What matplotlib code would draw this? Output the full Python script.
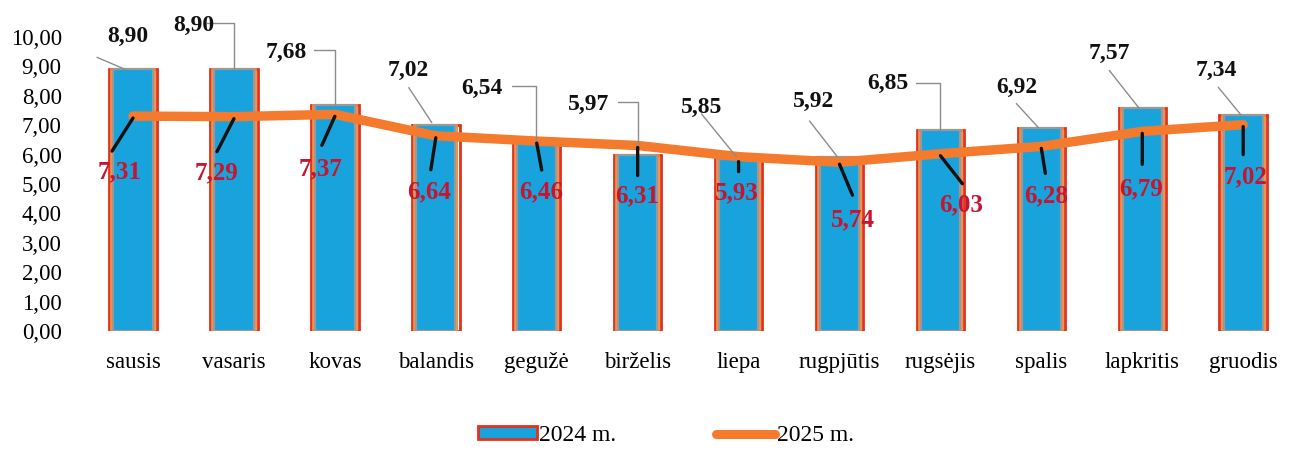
import matplotlib
matplotlib.use("Agg")
import matplotlib.pyplot as plt
from matplotlib.patches import Patch
from matplotlib.lines import Line2D
from matplotlib.transforms import offset_copy

plt.rcParams['font.family'] = ['Liberation Serif', 'DejaVu Serif']

months = ['sausis', 'vasaris', 'kovas', 'balandis', 'gegužė', 'birželis',
          'liepa', 'rugpjūtis', 'rugsėjis', 'spalis', 'lapkritis', 'gruodis']
v2024 = [8.90, 8.90, 7.68, 7.02, 6.54, 5.97, 5.85, 5.92, 6.85, 6.92, 7.57, 7.34]
v2025 = [7.31, 7.29, 7.37, 6.64, 6.46, 6.31, 5.93, 5.74, 6.03, 6.28, 6.79, 7.02]
yticks = [0, 1, 2, 3, 4, 5, 6, 7, 8, 9, 10]


def fmt(v):
    return f'{v:.2f}'.replace('.', ',')


# label placement, pixel offsets from the bar top / line point
top_text = [(-5, 33), (-40, 44), (-49, 53), (-28, 54), (-55, 50), (-49, 51),
            (-37, 52), (-26, 56), (-53, 46), (-25, 40), (-33, 55), (-27, 45)]
top_lead = [((-36, 12), (-8, 0), 'line'), ((-27, 46), (0, 0), 'elbow'),
            ((-21, 55), (0, 0), 'elbow'), ((-27, 37), (-4, 2), 'line'),
            ((-25, 53), (-1, 0), 'elbow'), ((-20, 53), (0, 9), 'elbow'),
            ((-37, 45), (-2, 2), 'line'), ((-30, 36), (-2, 0), 'line'),
            ((-24, 47), (0, 0), 'elbow'), ((-25, 24), (-3, 0), 'line'),
            ((-33, 38), (-3, 0), 'line'), ((-25, 28), (-2, 0), 'line')]
low_text = [(-13, -56), (-17, -56), (-14, -54), (-7, -56), (4, -51), (-1, -50),
            (-2, -36), (13, -58), (21, -51), (5, -49), (-1, -57), (2, -52)]
low_lead = [((0, -2), (-21, -35)), ((0, -2), (-17, -35)), ((0, -2), (-13, -31)),
            ((0, -2), (-5, -34)), ((0, -2), (5, -29)), ((0, -2), (0, -30)),
            ((0, -5), (0, -15)), ((0, -2), (13, -33)), ((0, -2), (22, -30)),
            ((0, -2), (4, -27)), ((0, -2), (0, -33)), ((0, -2), (0, -30))]

fig = plt.figure(figsize=(12.96, 4.5), dpi=100)
ax = fig.add_axes([0.0637, 0.2644, 0.9345, 0.6534])
x = range(len(months))

# framed bars: red outer frame, orange ring, grey-edged blue fill
ax.bar(x, v2024, width=0.47, color='#fbf6f2', edgecolor='#e0321c', linewidth=2, zorder=2)
ax.bar(x, v2024, width=0.43, color='none', edgecolor='#f08a3c', linewidth=1.3, zorder=2)
ax.bar(x, v2024, width=0.39, color='#19a3dd', edgecolor='#9c9896', linewidth=1.6, zorder=3)

ax.plot(x, v2025, color='#f47a2e', linewidth=6.8, solid_capstyle='round',
        solid_joinstyle='round', zorder=4)

for i in x:
    # 2024 labels
    (sx, sy), (ex, ey), kind = top_lead[i]
    tr = offset_copy(ax.transData, fig=fig, x=ex, y=ey, units='dots')
    cs = 'angle,angleA=0,angleB=90,rad=0' if kind == 'elbow' else 'arc3'
    ax.annotate('', xy=(i, v2024[i]), xycoords=tr,
                xytext=(sx - ex, sy - ey), textcoords='offset pixels',
                arrowprops=dict(arrowstyle='-', color='#8c8c8c', lw=1,
                                shrinkA=0, shrinkB=0, connectionstyle=cs), zorder=5)
    ax.annotate(fmt(v2024[i]), xy=(i, v2024[i]), xytext=top_text[i],
                textcoords='offset pixels', ha='center', va='center',
                fontsize=17, fontweight='bold', color='#111111', zorder=6)
    # 2025 labels
    (sx, sy), (ex, ey) = low_lead[i]
    tr = offset_copy(ax.transData, fig=fig, x=ex, y=ey, units='dots')
    ax.annotate('', xy=(i, v2025[i]), xycoords=tr,
                xytext=(sx - ex, sy - ey), textcoords='offset pixels',
                arrowprops=dict(arrowstyle='-', color='#111111', lw=2.4,
                                shrinkA=0, shrinkB=0), zorder=5)
    ax.annotate(fmt(v2025[i]), xy=(i, v2025[i]), xytext=low_text[i],
                textcoords='offset pixels', ha='center', va='center',
                fontsize=18, fontweight='bold', color='#c8142e', zorder=6)

ax.set_xlim(-0.5, len(months) - 0.5)
ax.set_ylim(0, 10)
ax.set_yticks(yticks)
ax.set_yticklabels([fmt(t) for t in yticks], fontsize=16.5)
ax.set_xticks(list(x))
ax.set_xticklabels(months, fontsize=16.5)
ax.tick_params(axis='x', length=0, pad=15)
ax.tick_params(axis='y', length=0, pad=15)
for s in ax.spines.values():
    s.set_visible(False)

handles = [Patch(facecolor='#19a3dd', edgecolor='#e0321c', linewidth=2),
           Line2D([0], [0], color='#f47a2e', linewidth=6.5, solid_capstyle='round')]
fig.legend(handles, ['2024 m.', '2025 m.'], loc='center', bbox_to_anchor=(0.514, 0.032),
           ncol=2, frameon=False, fontsize=17, handlelength=2.5, handleheight=0.5,
           handletextpad=0.1, columnspacing=4.2)

fig.savefig('out.png', dpi=100)
